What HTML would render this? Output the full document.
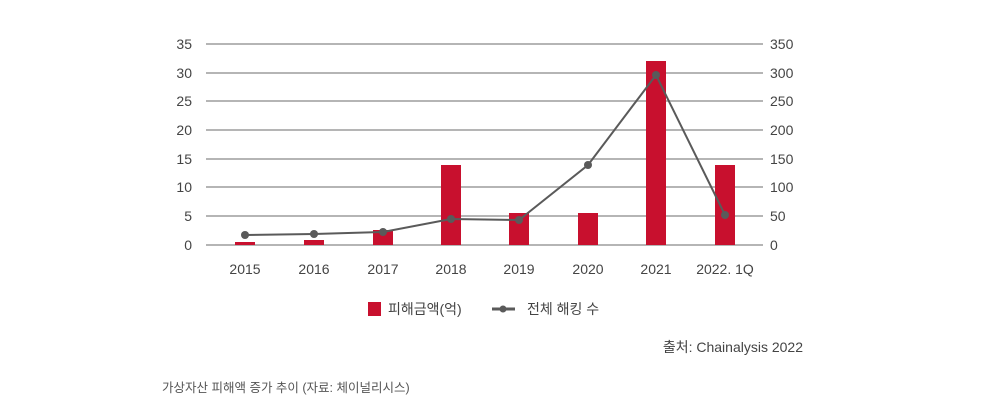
<!DOCTYPE html>
<html><head><meta charset="utf-8"><style>
html,body{margin:0;padding:0;background:#fff;width:999px;height:414px;overflow:hidden}
svg{display:block;font-family:"Liberation Sans","Noto Sans CJK KR",sans-serif}
</style></head><body>
<svg width="999" height="414" viewBox="0 0 999 414">
<g stroke="#b5b5b5" stroke-width="2">
<line x1="206" y1="44" x2="763" y2="44"/><line x1="206" y1="73" x2="763" y2="73"/>
<line x1="206" y1="101" x2="763" y2="101"/><line x1="206" y1="130" x2="763" y2="130"/>
<line x1="206" y1="159" x2="763" y2="159"/><line x1="206" y1="187" x2="763" y2="187"/>
<line x1="206" y1="216" x2="763" y2="216"/><line x1="206" y1="245" x2="763" y2="245"/>
</g>
<g fill="#444" font-size="14" text-anchor="end">
<text x="192" y="49">35</text><text x="192" y="78">30</text><text x="192" y="106">25</text>
<text x="192" y="135">20</text><text x="192" y="164">15</text><text x="192" y="192">10</text>
<text x="192" y="221">5</text><text x="192" y="250">0</text>
</g>
<g fill="#444" font-size="14">
<text x="770" y="49">350</text><text x="770" y="78">300</text><text x="770" y="106">250</text>
<text x="770" y="135">200</text><text x="770" y="164">150</text><text x="770" y="192">100</text>
<text x="770" y="221">50</text><text x="770" y="250">0</text>
</g>
<g fill="#c8102e">
<rect x="235" y="242" width="20" height="3"/>
<rect x="304" y="240" width="20" height="5"/>
<rect x="373" y="230" width="20" height="15"/>
<rect x="441" y="165" width="20" height="80"/>
<rect x="509" y="213" width="20" height="32"/>
<rect x="578" y="213" width="20" height="32"/>
<rect x="646" y="61" width="20" height="184"/>
<rect x="715" y="165" width="20" height="80"/>
</g>
<polyline fill="none" stroke="#5a5a5a" stroke-width="2" points="245,235 314,234 383,232 451,219 519,220 588,165 656,75 725,215"/>
<g fill="#5a5a5a">
<circle cx="245" cy="235" r="4"/><circle cx="314" cy="234" r="4"/><circle cx="383" cy="232" r="4"/>
<circle cx="451" cy="219" r="4"/><circle cx="519" cy="220" r="4"/><circle cx="588" cy="165" r="4"/>
<circle cx="656" cy="75" r="4"/><circle cx="725" cy="215" r="4"/>
</g>
<g fill="#444" font-size="14" text-anchor="middle">
<text x="245" y="274">2015</text><text x="314" y="274">2016</text><text x="383" y="274">2017</text>
<text x="451" y="274">2018</text><text x="519" y="274">2019</text><text x="588" y="274">2020</text>
<text x="656" y="274">2021</text><text x="725" y="274">2022. 1Q</text>
</g>
<rect x="368" y="302" width="13" height="14" fill="#c8102e"/>
<text x="388" y="314" fill="#444" font-size="14">피해금액(억)</text>
<line x1="492" y1="309" x2="515" y2="309" stroke="#5a5a5a" stroke-width="3"/>
<circle cx="503" cy="309" r="3.5" fill="#5a5a5a"/>
<text x="527" y="314" fill="#444" font-size="14">전체 해킹 수</text>
<text x="803" y="352" fill="#444" font-size="14" text-anchor="end">출처: Chainalysis 2022</text>
<text x="162" y="392" fill="#555" font-size="12.5">가상자산 피해액 증가 추이 (자료: 체이널리시스)</text>
</svg>
</body></html>
